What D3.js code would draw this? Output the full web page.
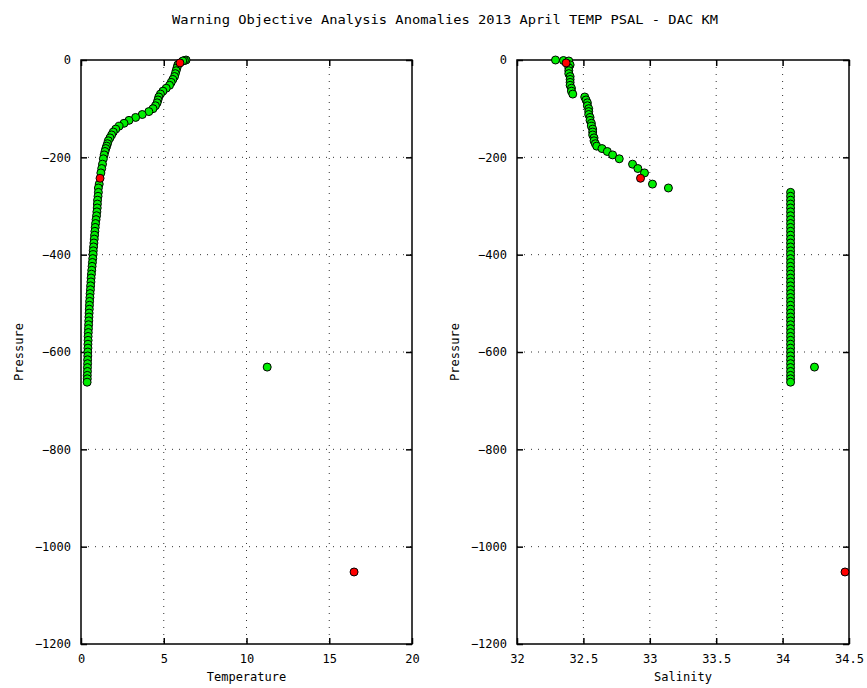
<!DOCTYPE html>
<html>
<head>
<meta charset="utf-8">
<script src="https://cdn.jsdelivr.net/npm/d3@7"></script>
<style>
  body { margin: 0; background: #fff; }
  text { font-family: "DejaVu Sans Mono", monospace; }
</style>
</head>
<body>
<div id="chart"></div>
<script>
const title = "Warning Objective Analysis Anomalies 2013 April TEMP PSAL - DAC KM";

// profile (green points)
const pressure = [0, -1, -2, -10, -16, -22, -28, -34, -40, -46, -52, -58, -64, -70,
  -76, -82, -88, -94, -100, -106, -112, -118, -124, -130, -136, -142, -148, -154, -160,
  -166, -172, -177, -182, -188, -195, -203, -214, -223, -232, -255, -263,
  -272, -280, -288, -296, -304, -312, -320, -328, -336, -344, -352, -360, -368, -376,
  -384, -392, -400, -408, -416, -424, -432, -440, -448, -456, -464, -472, -480, -488,
  -496, -504, -512, -520, -528, -536, -544, -552, -560, -568, -576, -584, -592, -600,
  -608, -616, -624, -632, -640, -648, -655, -662, -631];
const temperature = [6.35, 6.25, 6.15, 5.85, 5.8, 5.75, 5.7, 5.65, 5.55, 5.45, 5.35, 5.15, 4.95, 4.8,
  4.7, 4.65, 4.6, 4.5, 4.35, 4.1, 3.7, 3.3, 2.9, 2.6, 2.3, 2.1, 1.95, 1.85, 1.75,
  1.65, 1.6, 1.55, 1.5, 1.45, 1.4, 1.35, 1.3, 1.25, 1.2, 1.1, 1.05,
  1.05, 1.03, 1.0, 0.99, 0.98, 0.96, 0.94, 0.91, 0.88, 0.86, 0.84, 0.82, 0.8, 0.78,
  0.76, 0.74, 0.73, 0.71, 0.69, 0.67, 0.65, 0.63, 0.61, 0.6, 0.58, 0.57, 0.55, 0.54,
  0.52, 0.51, 0.5, 0.49, 0.48, 0.47, 0.46, 0.45, 0.44, 0.43, 0.43, 0.42, 0.42, 0.41,
  0.41, 0.4, 0.4, 0.39, 0.39, 0.38, 0.38, 0.37, 11.25];
const salinity = [32.29, 32.35, 32.39, 32.40, 32.39, 32.39, 32.39, 32.40, 32.40, 32.40, 32.40, 32.41, 32.41, 32.42,
  32.51, 32.52, 32.53, 32.53, 32.54, 32.54, 32.54, 32.55, 32.55, 32.56, 32.56, 32.57, 32.57, 32.57, 32.58,
  32.58, 32.59, 32.60, 32.64, 32.68, 32.72, 32.77, 32.87, 32.91, 32.96, 33.02, 33.14,
  34.06, 34.06, 34.06, 34.06, 34.06, 34.06, 34.06, 34.06, 34.06, 34.06, 34.06, 34.06, 34.06, 34.06,
  34.06, 34.06, 34.06, 34.06, 34.06, 34.06, 34.06, 34.06, 34.06, 34.06, 34.06, 34.06, 34.06, 34.06,
  34.06, 34.06, 34.06, 34.06, 34.06, 34.06, 34.06, 34.06, 34.06, 34.06, 34.06, 34.06, 34.06, 34.06,
  34.06, 34.06, 34.06, 34.06, 34.06, 34.06, 34.06, 34.06, 34.24];

// flagged anomalies (red points)
const flagPressure = [-6, -243, -1052];
const flagTemperature = [5.98, 1.15, 16.5];
const flagSalinity = [32.37, 32.93, 34.47];

const pressureTicks = [0, -200, -400, -600, -800, -1000, -1200];
const tempTicks = [0, 5, 10, 15, 20];
const salTicks = [32, 32.5, 33, 33.5, 34, 34.5];

const W = 867, H = 688;
const plotTop = 60, plotBottom = 644;

const svg = d3.select("#chart").append("svg")
  .attr("width", W).attr("height", H);

svg.append("text")
  .attr("x", 445).attr("y", 24)
  .attr("text-anchor", "middle")
  .attr("font-size", "12px")
  .attr("textLength", 546)
  .attr("lengthAdjust", "spacingAndGlyphs")
  .text(title);

const y = d3.scaleLinear().domain([-1200, 0]).range([plotBottom, plotTop]);

function panel(left, right, xDomain, xTicks, xLabel, xs, fx, fmt) {
  const x = d3.scaleLinear().domain(xDomain).range([left, right]);
  const g = svg.append("g");

  // dotted grid
  g.selectAll(".vg").data(xTicks.slice(1, -1)).enter().append("line")
    .attr("x1", d => x(d)).attr("x2", d => x(d))
    .attr("y1", plotTop).attr("y2", plotBottom)
    .attr("stroke", "#333").attr("stroke-width", 1)
    .attr("stroke-dasharray", "1,6");
  g.selectAll(".hg").data(pressureTicks.slice(1, -1)).enter().append("line")
    .attr("x1", left).attr("x2", right)
    .attr("y1", d => y(d)).attr("y2", d => y(d))
    .attr("stroke", "#333").attr("stroke-width", 1)
    .attr("stroke-dasharray", "1,6");

  // axes: ticks inside on all four sides
  g.append("g").attr("transform", `translate(0,${plotBottom})`)
    .call(d3.axisBottom(x).tickValues(xTicks).tickSize(-6).tickPadding(10).tickFormat(fmt))
    .call(a => a.select(".domain").remove());
  g.append("g").attr("transform", `translate(0,${plotTop})`)
    .call(d3.axisTop(x).tickValues(xTicks).tickSize(-6).tickFormat(""))
    .call(a => a.select(".domain").remove());
  g.append("g").attr("transform", `translate(${left},0)`)
    .call(d3.axisLeft(y).tickValues(pressureTicks).tickSize(-6).tickPadding(10).tickFormat(d3.format("d")))
    .call(a => a.select(".domain").remove());
  g.append("g").attr("transform", `translate(${right},0)`)
    .call(d3.axisRight(y).tickValues(pressureTicks).tickSize(-6).tickFormat(""))
    .call(a => a.select(".domain").remove());

  g.selectAll(".tick line").attr("stroke", "#000").attr("stroke-width", 1.5);
  g.selectAll(".tick text").attr("font-size", "12px").attr("fill", "#000")
    .style("font-family", "'DejaVu Sans Mono', monospace");

  g.append("rect")
    .attr("x", left).attr("y", plotTop)
    .attr("width", right - left).attr("height", plotBottom - plotTop)
    .attr("fill", "none").attr("stroke", "#000").attr("stroke-width", 1.5);

  g.append("text")
    .attr("x", (left + right) / 2).attr("y", 681)
    .attr("text-anchor", "middle").attr("font-size", "12px")
    .text(xLabel);
  g.append("text")
    .attr("transform", `translate(${left - 58},${(plotTop + plotBottom) / 2}) rotate(-90)`)
    .attr("text-anchor", "middle").attr("font-size", "12px")
    .text("Pressure");

  g.selectAll(".pt").data(d3.range(xs.length)).enter().append("circle")
    .attr("cx", i => x(xs[i])).attr("cy", i => y(pressure[i]))
    .attr("r", 4)
    .attr("fill", "#00ee00").attr("stroke", "#000").attr("stroke-width", 1);

  g.selectAll(".flag").data(d3.range(fx.length)).enter().append("circle")
    .attr("cx", i => x(fx[i])).attr("cy", i => y(flagPressure[i]))
    .attr("r", 4)
    .attr("fill", "#ff0000").attr("stroke", "#000").attr("stroke-width", 1);
}

panel(81, 412, [0, 20], tempTicks, "Temperature", temperature, flagTemperature, d3.format("d"));
panel(517, 849, [32, 34.5], salTicks, "Salinity", salinity, flagSalinity, d => String(d));
</script>
</body>
</html>
